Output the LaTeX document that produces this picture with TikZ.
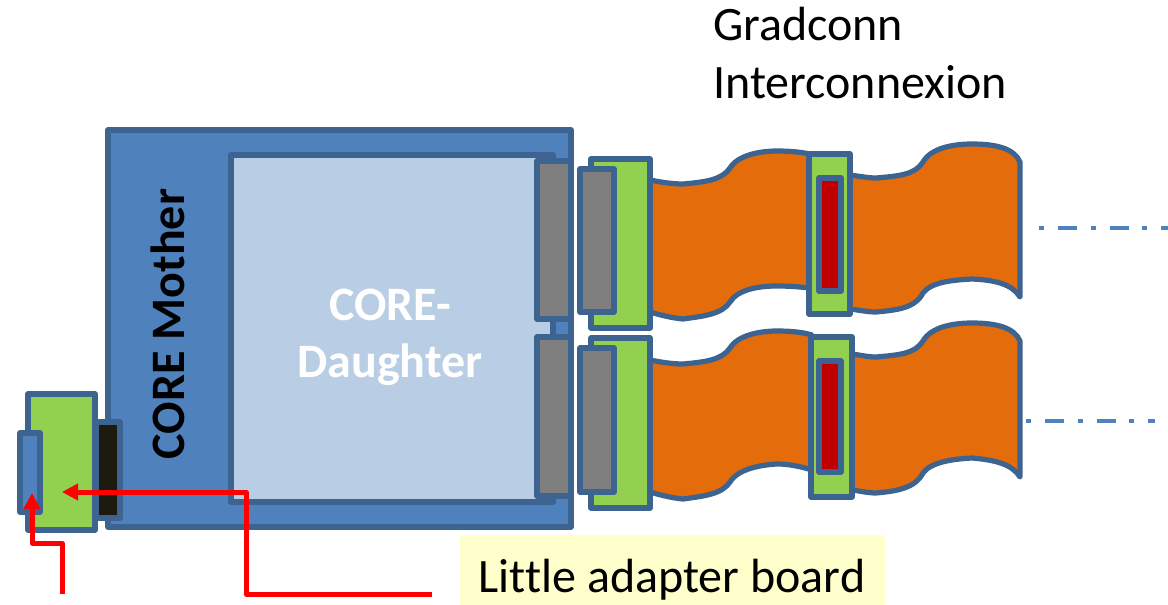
\documentclass[tikz,border=0pt]{standalone}
\usepackage{fontspec}
\setmainfont[Ligatures=NoCommon]{Carlito}
\usetikzlibrary{arrows.meta}
\definecolor{edge}{HTML}{3D6391}
\definecolor{cblue}{HTML}{4F81BD}
\definecolor{clight}{HTML}{B9CDE5}
\definecolor{cgreen}{HTML}{92D050}
\definecolor{corange}{HTML}{E46C0A}
\definecolor{cred}{HTML}{C00000}
\definecolor{cgrey}{HTML}{7F7F7F}
\definecolor{cblack}{HTML}{1D1B10}
\definecolor{cyellow}{HTML}{FFFFCC}
\tikzset{
  boxbase/.style={draw=edge,line width=5.2pt,line join=round,inner sep=0pt,outer sep=0pt,anchor=center},
  motherbox/.style={boxbase,fill=cblue},
  daughterbox/.style={boxbase,fill=clight},
  greenbox/.style={boxbase,fill=cgreen},
  greybox/.style={boxbase,fill=cgrey},
  redbox/.style={boxbase,fill=cred},
  blackbox/.style={boxbase,fill=cblack},
  ribbon/.style={draw=edge,fill=corange,line width=5.2pt,line join=round,line cap=round},
  pointer/.style={draw=red,line width=5pt,line join=round,-{Triangle[length=16pt,width=16pt]}},
  dotted line/.style={draw=cblue,line width=4.4pt,dash pattern=on 5pt off 14pt on 19pt off 13.5pt},
  label/.style={text=black,inner sep=0pt},
}
\begin{document}
\begin{tikzpicture}[x=1pt,y=-1pt]
\useasboundingbox (0,0) rectangle (1168,605);
% boards
\node[motherbox,minimum width=463pt,minimum height=397pt] (mother) at (339.5,328.5) {};
\node[daughterbox,minimum width=322pt,minimum height=347pt] (daughter) at (392,328.5) {};
\node[greybox,minimum width=34pt,minimum height=158pt] (sockA) at (554,240) {};
\node[greybox,minimum width=34pt,minimum height=159pt] (sockB) at (554,416.5) {};
% ribbons
\path[ribbon] (650,180) .. controls (660,182) and (672,184) .. (683,184)
  .. controls (705,182) and (722,180) .. (730,168) .. controls (738,155) and (760,151) .. (777,151)
  .. controls (790,151) and (800,152) .. (810,154) -- (810,288)
  .. controls (800,287) and (790,286) .. (777,286) .. controls (760,286) and (738,289) .. (730,302)
  .. controls (722,314) and (705,316) .. (683,319) .. controls (672,318) and (660,315) .. (650,312) -- cycle;
\path[ribbon] (650,360) .. controls (660,362) and (672,364) .. (683,364)
  .. controls (705,362) and (722,360) .. (730,348) .. controls (738,335) and (760,331) .. (777,331)
  .. controls (790,331) and (802,332) .. (812,335) -- (812,470)
  .. controls (802,467) and (790,464) .. (777,464) .. controls (760,465) and (738,469) .. (730,482)
  .. controls (722,494) and (705,496) .. (683,499) .. controls (672,498) and (660,495) .. (650,492) -- cycle;
\path[ribbon] (850,175) .. controls (858,176) and (868,178) .. (876,178)
  .. controls (898,176) and (915,175) .. (923,162) .. controls (931,148) and (953,144) .. (972,144)
  .. controls (995,144) and (1014,148) .. (1020,162) -- (1020,297)
  .. controls (1012,284) and (995,280) .. (972,279) .. controls (953,280) and (931,282) .. (923,293)
  .. controls (915,308) and (898,310) .. (876,312) .. controls (868,312) and (858,310) .. (850,309) -- cycle;
\path[ribbon] (852,354) .. controls (860,355) and (868,357) .. (876,357)
  .. controls (898,355) and (915,354) .. (923,341) .. controls (931,327) and (953,323) .. (972,323)
  .. controls (995,323) and (1014,327) .. (1020,341) -- (1020,477)
  .. controls (1012,464) and (995,460) .. (972,458) .. controls (953,459) and (931,462) .. (923,473)
  .. controls (915,488) and (898,491) .. (876,493) .. controls (868,493) and (860,491) .. (852,490) -- cycle;
% connectors on the ribbons
\node[greenbox,minimum width=59pt,minimum height=169pt] (plugA) at (620.5,243.5) {};
\node[greenbox,minimum width=59pt,minimum height=170pt] (plugB) at (620.5,423) {};
\node[greybox,minimum width=34pt,minimum height=143pt] (pinA) at (597,240.5) {};
\node[greybox,minimum width=34pt,minimum height=144pt] (pinB) at (597,420) {};
\node[greenbox,minimum width=41pt,minimum height=160pt] (midA) at (829.5,234) {};
\node[greenbox,minimum width=41pt,minimum height=160pt] (midB) at (831.5,417) {};
\node[redbox,minimum width=22pt,minimum height=113pt] (slotA) at (830,234.5) {};
\node[redbox,minimum width=22pt,minimum height=111pt] (slotB) at (830,416.5) {};
% adapter
\node[greenbox,minimum width=67pt,minimum height=136pt] (adapter) at (61.5,462) {};
\node[blackbox,minimum width=24pt,minimum height=96pt] (header) at (108,470) {};
\node[motherbox,minimum width=20pt,minimum height=79pt] (jtag) at (30,472.5) {};
% continuation lines
\coordinate (endA) at (1168,228);
\coordinate (endB) at (1155,421);
\coordinate (startA) at (1039,228);
\coordinate (startB) at (1026,421);
\draw[dotted line] (startA) -- (endA);
\draw[dotted line] (startB) -- (endB);
% texts
\node[label,align=left,anchor=north west,font=\fontsize{48}{58}\selectfont] (title) at (713,7) {Gradconn\\Interconnexion};
\node[label,font=\fontsize{48}{50}\selectfont\bfseries,rotate=90] (mlabel) at (168,324) {CORE Mother};
\node[label,font=\fontsize{48}{57}\selectfont\bfseries,text=white,align=center] (dlabel) at (390,337) {CORE-\\Daughter};
\node[fill=cyellow,minimum width=425pt,minimum height=70pt,inner sep=0pt,outer sep=0pt] (note) at (672.5,570) {};
\node[label,anchor=center,font=\fontsize{48}{50}\selectfont] (notetext) at (672,580) {Little adapter board};
% arrows
\coordinate (srcA) at (62,594);
\coordinate (srcB) at (432,594);
\coordinate (tipA) at (32,493);
\coordinate (tipB) at (62,492);
\draw[pointer] (srcA) -- (62,543) -- (32,543) -- (tipA);
\draw[pointer] (srcB) -- (246,594) -- (246,492) -- (tipB);
\end{tikzpicture}
\end{document}
